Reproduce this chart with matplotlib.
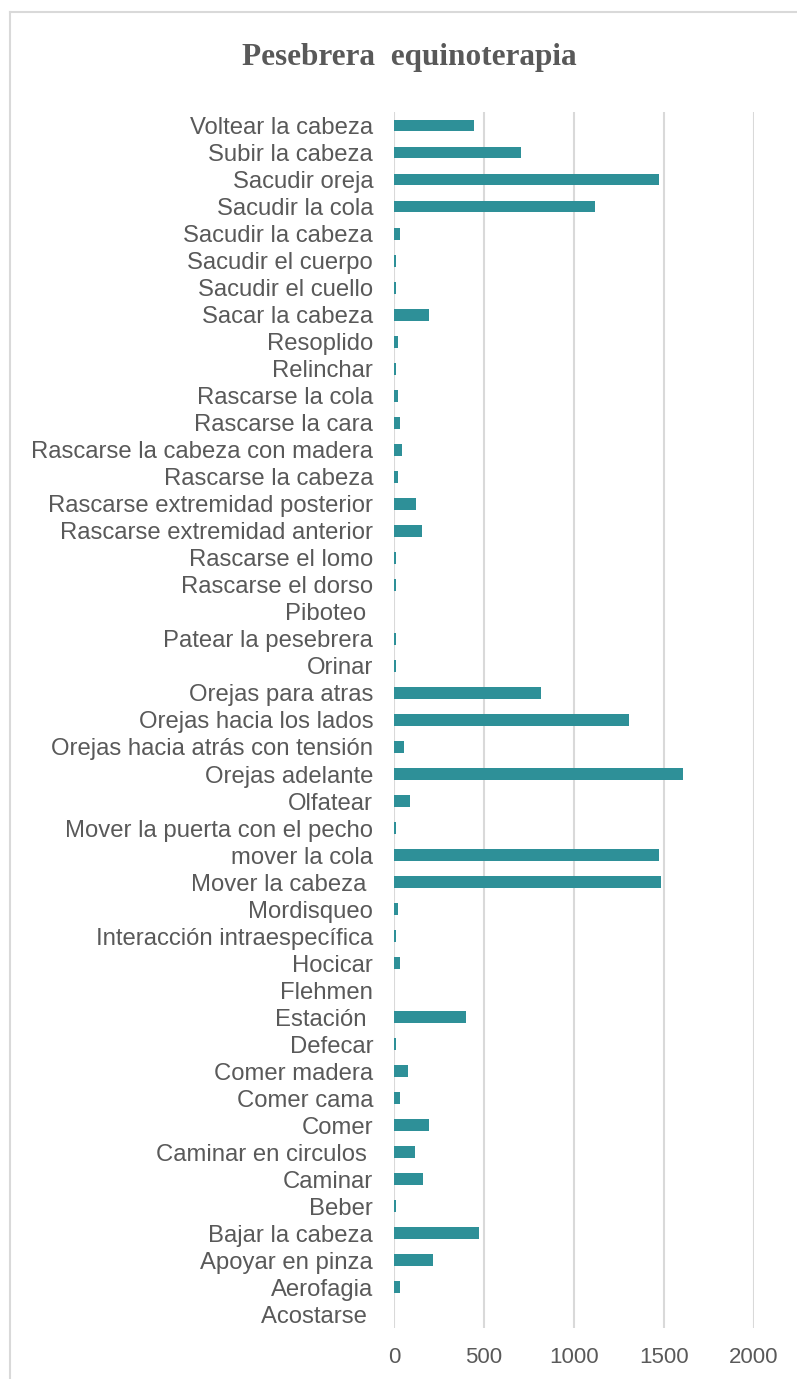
import matplotlib.pyplot as plt
from matplotlib.lines import Line2D

# Behaviour categories, bottom to top as Excel draws them
conductas = ['Acostarse ', 'Aerofagia', 'Apoyar en pinza', 'Bajar la cabeza',
             'Beber', 'Caminar', 'Caminar en circulos ', 'Comer', 'Comer cama',
             'Comer madera', 'Defecar', 'Estación ', 'Flehmen', 'Hocicar',
             'Interacción intraespecífica', 'Mordisqueo', 'Mover la cabeza ',
             'mover la cola', 'Mover la puerta con el pecho', 'Olfatear',
             'Orejas adelante', 'Orejas hacia atrás con tensión',
             'Orejas hacia los lados', 'Orejas para atras', 'Orinar',
             'Patear la pesebrera', 'Piboteo ', 'Rascarse el dorso',
             'Rascarse el lomo', 'Rascarse extremidad anterior',
             'Rascarse extremidad posterior', 'Rascarse la cabeza',
             'Rascarse la cabeza con madera', 'Rascarse la cara',
             'Rascarse la cola', 'Relinchar', 'Resoplido', 'Sacar la cabeza',
             'Sacudir el cuello', 'Sacudir el cuerpo', 'Sacudir la cabeza',
             'Sacudir la cola', 'Sacudir oreja', 'Subir la cabeza',
             'Voltear la cabeza']

frecuencia = [0, 35, 218, 474, 13, 163, 117, 196, 35, 80,
              13, 402, 0, 35, 13, 24, 1482, 1470, 13, 91,
              1604, 57, 1304, 815, 13, 13, 0, 13, 13, 157,
              124, 24, 46, 35, 24, 13, 24, 193, 13, 13,
              35, 1115, 1470, 704, 446]

x_ticks = [0, 500, 1000, 1500, 2000]

gris = '#595959'

fig = plt.figure(figsize=(7.97, 13.79), dpi=100)
ax = fig.add_axes([0.4944, 0.0370, 0.4517, 0.8818])

ax.barh(range(len(conductas)), frecuencia, height=0.44, color='#2E9098')

ax.set_xlim(0, 2000)
ax.set_ylim(-0.5, len(conductas) - 0.5)
ax.set_xticks(x_ticks)
ax.set_xticklabels([str(t) for t in x_ticks])
ax.set_yticks(range(len(conductas)))
ax.set_yticklabels(conductas)

ax.tick_params(axis='y', length=0, pad=15, labelsize=17.2, labelcolor=gris)
ax.tick_params(axis='x', length=0, pad=14, labelsize=16, labelcolor=gris)
for lbl in ax.get_xticklabels() + ax.get_yticklabels():
    lbl.set_fontfamily('Liberation Sans')

for s in ax.spines.values():
    s.set_visible(False)
ax.grid(axis='x', color='#D9D9D9', linewidth=1.5)
ax.set_axisbelow(True)

fig.text(0.513, 0.9585, 'Pesebrera  equinoterapia', ha='center', va='center',
         fontsize=22.5, fontweight='bold', color=gris,
         fontfamily='Liberation Serif')

# chart area border (only top and left edges fall inside the picture)
fig.add_artist(Line2D([0.0125, 0.0125], [0.0, 0.9915], transform=fig.transFigure,
                      color='#D9D9D9', linewidth=1.5))
fig.add_artist(Line2D([0.0125, 1.0], [0.9915, 0.9915], transform=fig.transFigure,
                      color='#D9D9D9', linewidth=1.5))

fig.savefig('out.png', dpi=100, facecolor='white')
